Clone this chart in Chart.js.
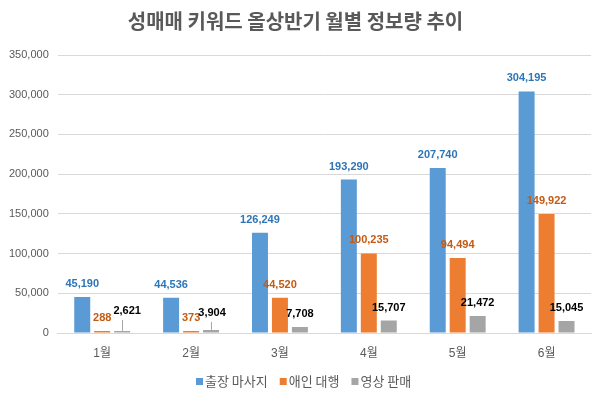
<!DOCTYPE html>
<html>
<head>
<meta charset="utf-8">
<script src="https://cdn.jsdelivr.net/npm/chart.js@4"></script>
<style>
  html, body { margin: 0; padding: 0; background: #fff; }
  #wrap { width: 595px; height: 399px; }
</style>
</head>
<body>
<div id="wrap"><canvas id="myChart" width="595" height="399"></canvas></div>
<script>
const months = ['1월', '2월', '3월', '4월', '5월', '6월'];
const seriesNames = ['출장 마사지', '애인 대행', '영상 판매'];
const massage = [45190, 44536, 126249, 193290, 207740, 304195];
const escort = [288, 373, 44520, 100235, 94494, 149922];
const video = [2621, 3904, 7708, 15707, 21472, 15045];

const barColors = ['#5B9BD5', '#ED7D31', '#A5A5A5'];
const labelColors = ['#2E75B6', '#C55A11', '#000000'];
// labels Excel moved up with a leader line (dataset-index)
const labelNudge = { '2-0': { dx: 5, dy: 7 }, '2-1': { dx: 1, dy: 4 } };

const fontFam = "'Liberation Sans', 'Noto Sans CJK KR', sans-serif";
const krFont = "'Noto Sans CJK KR', sans-serif";

const valueLabels = {
    id: 'valueLabels',
    afterDatasetsDraw(chart) {
        const ctx = chart.ctx;
        ctx.save();
        ctx.font = 'bold 11px ' + fontFam;
        ctx.textAlign = 'center';
        ctx.textBaseline = 'middle';
        chart.data.datasets.forEach((ds, i) => {
            chart.getDatasetMeta(i).data.forEach((bar, j) => {
                const n = labelNudge[i + '-' + j];
                let x = bar.x, y = bar.y - 13;
                if (n) {
                    x += n.dx;
                    y -= n.dy;
                    ctx.strokeStyle = '#A6A6A6';
                    ctx.lineWidth = 1;
                    ctx.beginPath();
                    ctx.moveTo(Math.round(bar.x) + 0.5, bar.y);
                    ctx.lineTo(Math.round(bar.x) + 0.5, y + 9);
                    ctx.stroke();
                }
                ctx.fillStyle = labelColors[i];
                ctx.fillText(ds.data[j].toLocaleString('en-US'), x, y);
            });
        });
        ctx.restore();
    }
};

// excel-like legend: small squares, tight text gap
const bottomLegend = {
    id: 'bottomLegend',
    afterDraw(chart) {
        const ctx = chart.ctx;
        const box = 7, textGap = 2, itemGap = 12;
        ctx.save();
        ctx.font = '13px ' + krFont;
        ctx.textBaseline = 'middle';
        const items = chart.data.datasets.map(ds => ({
            text: ds.label, color: ds.backgroundColor, w: ctx.measureText(ds.label).width
        }));
        const total = items.reduce((s, it) => s + box + textGap + it.w, 0) + itemGap * (items.length - 1);
        let x = Math.round(304 - total / 2);
        const y = 381;
        items.forEach(it => {
            ctx.fillStyle = it.color;
            ctx.fillRect(x, y - 3, box, box);
            x += box + textGap;
            ctx.fillStyle = '#595959';
            ctx.fillText(it.text, x, y);
            x += it.w + itemGap;
        });
        ctx.restore();
    }
};

const grafico = document.getElementById('myChart');
const myChart = new Chart(grafico, {
    type: 'bar',
    data: {
        labels: months,
        datasets: [massage, escort, video].map((vals, i) => ({
            label: seriesNames[i],
            data: vals,
            backgroundColor: barColors[i],
            categoryPercentage: 0.674,
            barPercentage: 0.8,
            minBarLength: 2
        }))
    },
    options: {
        responsive: false,
        animation: false,
        layout: { padding: { left: 0, right: 4, top: 0, bottom: 33 } },
        plugins: {
            title: {
                display: true,
                text: '성매매 키워드 올상반기 월별 정보량 추이',
                color: '#595959',
                font: { family: krFont, size: 20, weight: 'bold' },
                padding: { top: 9, bottom: 22 }
            },
            legend: { display: false },
            tooltip: { enabled: false }
        },
        scales: {
            x: {
                grid: { display: false, drawTicks: false },
                border: { color: '#D9D9D9' },
                ticks: { color: '#595959', padding: 13, font: { family: fontFam, size: 12 } },
                afterFit: scale => { scale.height = 33; }
            },
            y: {
                min: 0,
                max: 350000,
                grid: { color: '#D9D9D9', drawTicks: false },
                border: { display: false },
                ticks: {
                    stepSize: 50000,
                    color: '#595959',
                    padding: 9,
                    font: { family: fontFam, size: 11 },
                    callback: v => v.toLocaleString('en-US')
                }
            }
        }
    },
    plugins: [valueLabels, bottomLegend]
});
</script>
</body>
</html>
